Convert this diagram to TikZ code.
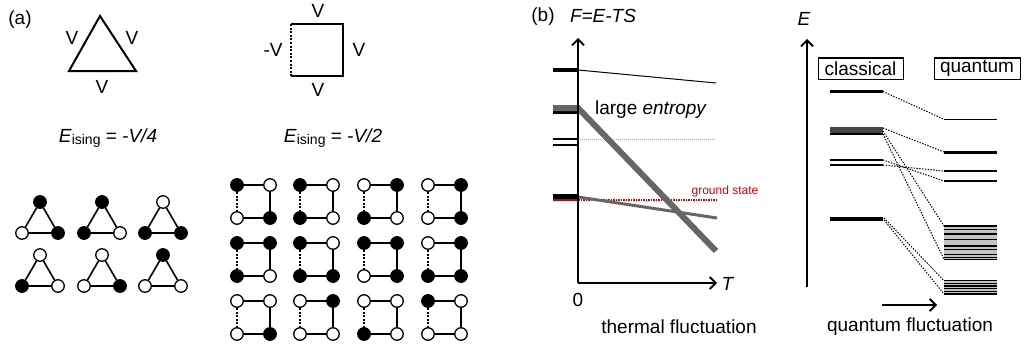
\documentclass[tikz,border=0pt]{standalone}
\usepackage{fontspec}
\setmainfont{Liberation Sans}
\usetikzlibrary{arrows.meta,positioning}
\definecolor{cGry} {HTML}{666666}
\definecolor{cDrk} {HTML}{444444}
\definecolor{cBand}{HTML}{C2C2C2}
\definecolor{cRed} {HTML}{D00000}
\tikzset{
  lab/.style  ={font=\fontsize{19}{22}\selectfont,inner sep=0pt},
  sml/.style  ={font=\fontsize{12}{14}\selectfont,inner sep=0pt},
  spin/.style ={circle,draw=black,line width=1.3pt,minimum size=12.5pt,inner sep=0pt},
  bond/.style ={draw=black,line width=1.6pt},
  fbond/.style={bond,dash pattern=on 2pt off 1.6pt},
  big/.style  ={draw=black,line width=2pt},
  axis/.style ={-{Straight Barb[length=6pt,width=12pt]},line width=1.8pt},
  lvl/.style  ={draw=black,line width=1.3pt},
  qlink/.style={draw=black,line width=1pt,dash pattern=on 1.4pt off 1.4pt},
  box/.style  ={lab,draw=black,line width=1pt,minimum height=21pt},
}
\newcommand{\Eising}[1]{\textit{E}\raisebox{-2.5pt}{\fontsize{14}{14}\selectfont ising} = \textit{#1}}

\begin{document}
\begin{tikzpicture}[x=1pt, y=-1pt]
\useasboundingbox (0,0) rectangle (1024,345);

% ===== (a) triangle and square plaquettes =================================
\node[lab] (pa) at (20,20) {(a)};

\coordinate (ta) at (100,16);
\coordinate (tb) at (69,71);
\coordinate (tc) at (136,71);
\draw[big] (ta) -- (tb) -- (tc) -- cycle;
\node[lab] (tv1) at (72,38)  {V};
\node[lab] (tv2) at (132,38) {V};
\node[lab] (tv3) at (102,87) {V};
\node[lab] (te)  at (108,138) {\Eising{-V/4}};

\coordinate (qtl) at (291,24);
\coordinate (qtr) at (343,24);
\coordinate (qbr) at (343,76);
\coordinate (qbl) at (291,76);
\draw[big] (qbl) -- (qbr) -- (qtr) -- (qtl);
\draw[big,dash pattern=on 2pt off 1.6pt] (qtl) -- (qbl);
\node[lab] (qv1) at (318,11) {V};
\node[lab] (qv2) at (273,50) {-V};
\node[lab] (qv3) at (359,50) {V};
\node[lab] (qv4) at (318,90) {V};
\node[lab] (qe)  at (333,138) {\Eising{-V/2}};

% ===== (a) spin configurations ============================================
% apex x 40 / 102 / 163, apex y 202 / 255
\foreach \x/\y/\a/\b/\c [count=\k] in
  {40/202/black/white/black, 102/202/black/black/white, 163/202/white/black/black,
   40/255/white/black/white, 102/255/white/white/black, 163/255/black/white/white}{
  \node[spin,fill=\a] (t\k-a) at (\x,\y) {};
  \node[spin,fill=\b] (t\k-b) at (\x-18,\y+31) {};
  \node[spin,fill=\c] (t\k-c) at (\x+18,\y+31) {};
  \draw[bond] (t\k-a) -- (t\k-b);
  \draw[bond] (t\k-b) -- (t\k-c);
  \draw[bond] (t\k-c) -- (t\k-a);
}

% columns 237 / 300 / 364 / 428, rows 185 / 243 / 301, side 33
\foreach \x/\y/\a/\b/\c/\d [count=\k] in
  {237/185/black/white/white/black, 300/185/black/white/black/white,
   364/185/white/black/black/white, 428/185/white/black/white/black,
   237/243/black/black/black/white, 300/243/black/white/black/black,
   364/243/black/black/white/black, 428/243/white/black/black/black,
   237/301/white/white/white/black, 300/301/white/black/white/white,
   364/301/white/white/black/white, 428/301/black/white/white/white}{
  \node[spin,fill=\a] (s\k-tl) at (\x,\y) {};
  \node[spin,fill=\b] (s\k-tr) at (\x+33,\y) {};
  \node[spin,fill=\c] (s\k-bl) at (\x,\y+33) {};
  \node[spin,fill=\d] (s\k-br) at (\x+33,\y+33) {};
  \draw[bond]  (s\k-tl) -- (s\k-tr);
  \draw[bond]  (s\k-tr) -- (s\k-br);
  \draw[bond]  (s\k-bl) -- (s\k-br);
  \draw[fbond] (s\k-tl) -- (s\k-bl);
}

% ===== (b) free energy vs temperature =====================================
\node[lab] (pb) at (543,17) {(b)};
\node[lab] (fe) at (603,16) {\textit{F=E-TS}};

\coordinate (o)    at (578,283);
\coordinate (ytip) at (578,38);
\coordinate (xtip) at (717,283);

% levels at T = 0
\draw[lvl,line width=4pt] (553,70) -- (578,70);
\draw[line width=1pt] (578,70) -- (716,83);

\draw[lvl,line width=5pt] (553,111.5) -- (578,111.5);
\draw[lvl] (553,139) -- (578,139);
\draw[lvl] (553,145) -- (578,145);
\draw[gray!70,line width=0.8pt,dash pattern=on 1pt off 1pt] (578,139) -- (716,139);

\draw[lvl,line width=5pt] (553,196.5) -- (578,196.5);
\draw[cRed,line width=2pt] (553,200) -- (578,200);
\draw[cRed,line width=1.4pt,dash pattern=on 1.5pt off 1pt] (578,200) -- (716,200);
\node[sml,text=cRed] (gs) at (725,191) {ground state};

\draw[cGry,line width=3pt] (578,197) -- (717,218);
\draw[cGry,line width=6pt] (553,108) -- (578,108) -- (716,251);
\node[lab] (ent) at (651,110) {large \textit{entropy}};

\draw[axis] (o) -- (ytip);
\draw[axis] (o) -- (xtip);
\node[lab] (tT) at (728,284) {\textit{T}};
\node[lab] (t0) at (578,300) {0};
\node[lab] (tf) at (679,327) {thermal fluctuation};

% ===== (c) classical vs quantum levels ====================================
\node[lab] (tE) at (804,19) {\textit{E}};
\coordinate (e0)   at (807,287);
\coordinate (etip) at (807,39);
\draw[axis] (e0) -- (etip);

\node[box,minimum width=85pt] (cbox) at (860.5,68.5) {classical};
\node[box,minimum width=86pt] (qbox) at (977,68.5)  {quantum};

% classical levels, x 830-883
\draw[lvl,line width=3pt] (830,91.5) -- (883,91.5);
\fill[cDrk] (830,127) rectangle (883,133);
\draw[lvl,line width=2pt] (830,134) -- (883,134);
\draw[lvl] (830,160) -- (883,160);
\draw[lvl] (830,165) -- (883,165);
\draw[lvl,line width=4pt] (830,218.5) -- (883,218.5);

% quantum levels, x 944-997
\draw[lvl] (944,119.3) -- (997,119.3);
\draw[lvl,line width=3pt] (944,152) -- (997,152);
\draw[lvl,line width=1.5pt] (944,171) -- (997,171);
\draw[lvl,line width=1.5pt] (944,181) -- (997,181);
\fill[cBand] (944,225) rectangle (997,260);
\foreach \y in {226,229.3,234,239.3,246,249.3,254.3,257.7,259.3}
  {\draw[lvl] (944,\y) -- (997,\y);}
\fill[cBand] (944,280) rectangle (997,294.5);
\foreach \y in {280.7,283.3,286,288.7,291.3,294}
  {\draw[lvl] (944,\y) -- (997,\y);}

% level ends for the correlation lines
\coordinate (c1)  at (883,91.5);
\coordinate (c2a) at (883,128);
\coordinate (c2b) at (883,131);
\coordinate (c2c) at (883,134);
\coordinate (c3a) at (883,160);
\coordinate (c3b) at (883,165);
\coordinate (c4a) at (884,218);
\coordinate (c4b) at (884,220);
\coordinate (q1)  at (944,119.3);
\coordinate (q2)  at (944,152);
\coordinate (q3)  at (944,171);
\coordinate (q4)  at (944,181);
\coordinate (b1t) at (944,226);
\coordinate (b1b) at (944,259.3);
\coordinate (b2t) at (944,280.7);
\coordinate (b2b) at (944,294);
\draw[qlink] (c1)  -- (q1);
\draw[qlink] (c2a) -- (q2);
\draw[qlink] (c2b) -- (b1t);
\draw[qlink] (c2c) -- (b1b);
\draw[qlink] (c3a) -- (q4);
\draw[qlink] (c3b) -- (q3);
\draw[qlink] (c4a) -- (b2t);
\draw[qlink] (c4b) -- (b2b);

\coordinate (qa) at (882,305);
\coordinate (qb) at (937,305);
\draw[axis] (qa) -- (qb);
\node[lab] (qf) at (910,327) {quantum fluctuation};
\end{tikzpicture}
\end{document}
